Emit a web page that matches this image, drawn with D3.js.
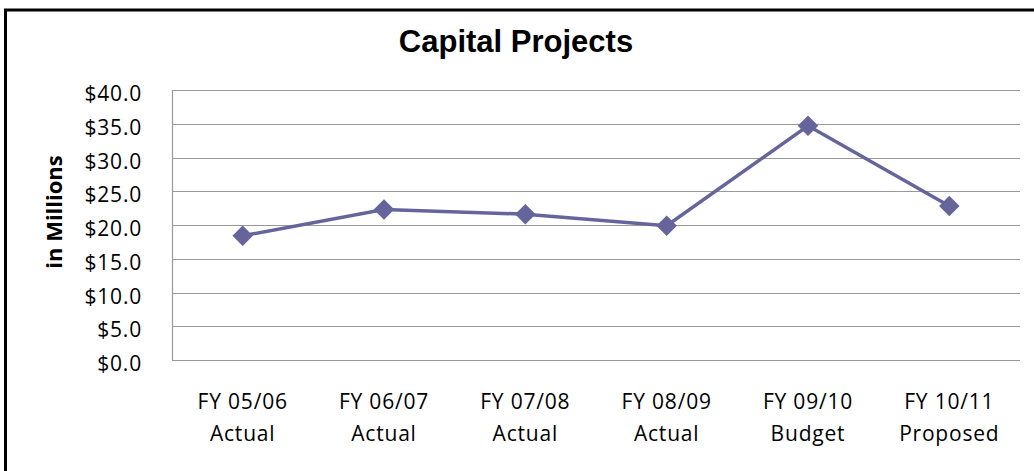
<!DOCTYPE html>
<html>
<head>
<meta charset="utf-8">
<script src="https://cdn.jsdelivr.net/npm/d3@7"></script>
<style>
  body { margin: 0; background: #fff; }
  svg { display: block; }
</style>
</head>
<body>
<svg width="1034" height="471"></svg>
<script>
// data (millions)
const years = ['FY 05/06', 'FY 06/07', 'FY 07/08', 'FY 08/09', 'FY 09/10', 'FY 10/11'];
const kinds = ['Actual', 'Actual', 'Actual', 'Actual', 'Budget', 'Proposed'];
const values = [18.4, 22.3, 21.6, 19.9, 34.7, 22.8];
const yTicks = [0, 5, 10, 15, 20, 25, 30, 35, 40];

const svg = d3.select('svg');
const plotL = 172, plotR = 1020, plotT = 90, plotB = 360;
const lineColor = '#65659b';
const labelFont = "'Open Sans', sans-serif";

// outer frame, runs off the right and bottom edge
svg.append('rect')
  .attr('x', 5.5).attr('y', 10)
  .attr('width', 1100).attr('height', 600)
  .attr('fill', 'none').attr('stroke', '#000').attr('stroke-width', 3);

const x = d3.scaleBand().domain(d3.range(years.length)).range([plotL, plotR]);
const y = d3.scaleLinear().domain([0, 40]).range([plotB, plotT]);

// gridlines
svg.append('g').selectAll('line').data(yTicks).enter()
  .append('line')
  .attr('x1', plotL).attr('x2', plotR)
  .attr('y1', d => Math.round(y(d)) + 0.5)
  .attr('y2', d => Math.round(y(d)) + 0.5)
  .attr('stroke', '#999').attr('stroke-width', 1.2);

// left axis line
svg.append('line')
  .attr('x1', plotL + 0.5).attr('x2', plotL + 0.5)
  .attr('y1', plotT).attr('y2', plotB + 0.5)
  .attr('stroke', '#999').attr('stroke-width', 1.2);

// y tick labels
svg.append('g').selectAll('text').data(yTicks).enter()
  .append('text')
  .attr('x', 142)
  .attr('y', d => y(d) + 11)
  .attr('text-anchor', 'end')
  .attr('font-family', labelFont)
  .attr('font-size', 21)
  .attr('letter-spacing', 0.8)
  .attr('fill', '#000')
  .text(d => '$' + d.toFixed(1));

// x labels, two lines
const xl = svg.append('g').selectAll('text').data(years).enter()
  .append('text')
  .attr('text-anchor', 'middle')
  .attr('font-family', labelFont)
  .attr('font-size', 21)
  .attr('letter-spacing', 0.8)
  .attr('fill', '#000');
xl.append('tspan')
  .attr('x', (d, i) => x(i) + x.bandwidth() / 2)
  .attr('y', 409)
  .text(d => d);
xl.append('tspan')
  .attr('x', (d, i) => x(i) + x.bandwidth() / 2)
  .attr('y', 441)
  .text((d, i) => kinds[i]);

// line + diamond markers
const line = d3.line()
  .x((d, i) => x(i) + x.bandwidth() / 2)
  .y(d => y(d));

svg.append('path')
  .datum(values)
  .attr('d', line)
  .attr('fill', 'none')
  .attr('stroke', lineColor)
  .attr('stroke-width', 3.5);

svg.append('g').selectAll('path').data(values).enter()
  .append('path')
  .attr('d', d3.symbol().type(d3.symbolSquare).size(210))
  .attr('transform', (d, i) => `translate(${x(i) + x.bandwidth() / 2},${y(d)}) rotate(45)`)
  .attr('fill', lineColor);

// title
svg.append('text')
  .attr('x', 516).attr('y', 52)
  .attr('text-anchor', 'middle')
  .attr('font-family', "'Liberation Sans', Arial, sans-serif")
  .attr('font-weight', 'bold')
  .attr('font-size', 31)
  .text('Capital Projects');

// y axis title
svg.append('text')
  .attr('transform', 'translate(62,212) rotate(-90)')
  .attr('text-anchor', 'middle')
  .attr('font-family', labelFont)
  .attr('font-weight', 'bold')
  .attr('font-size', 22)
  .text('in Millions');
</script>
</body>
</html>
